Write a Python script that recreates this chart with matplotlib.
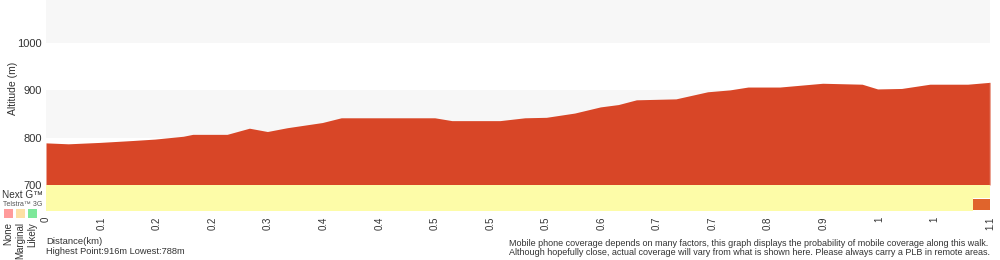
import numpy as np
import matplotlib
matplotlib.use("Agg")
import matplotlib.pyplot as plt

plt.rcParams['font.family'] = ['Liberation Sans', 'DejaVu Sans']

# elevation profile (km, m)
distance_km = [0.0, 0.026, 0.063, 0.101, 0.127, 0.160, 0.171, 0.211, 0.237, 0.258,
               0.281, 0.322, 0.344, 0.453, 0.473, 0.529, 0.558, 0.583, 0.616, 0.646,
               0.667, 0.688, 0.734, 0.771, 0.797, 0.818, 0.855, 0.905, 0.951, 0.969,
               0.997, 1.030, 1.074, 1.100]
altitude_m = [789, 787, 790, 794, 797, 803, 807, 807, 820, 813,
              821, 832, 842, 842, 836, 836, 842, 843, 852, 865,
              870, 880, 882, 897, 901, 907, 907, 915, 913, 903,
              904, 913, 913, 917]

# x tick labels as printed on the chart
tick_labels = ['0', '0.1', '0.2', '0.2', '0.3', '0.4', '0.4', '0.5', '0.5',
               '0.5', '0.6', '0.7', '0.7', '0.8', '0.9', '1', '1', '1.1']

# coverage segments (start km, end km, level)
nextg_start = [0.0]
nextg_end = [1.1]
nextg_level = ['Marginal']
g3_start = [0.0, 1.08]
g3_end = [1.08, 1.1]
g3_level = ['Marginal', 'None']

band_colors = {'None': '#e0642c', 'Marginal': '#fdfca8', 'Likely': '#7de89a'}
legend_levels = ['None', 'Marginal', 'Likely']
legend_colors = ['#ff9b9b', '#fde0a4', '#7de89a']

fig = plt.figure(figsize=(10, 2.6), dpi=100)
ax = fig.add_axes([0.046, 0.1885, 0.944, 0.8115])

x_max = 1.1
y_bot, y_top = 645, 1091

# alternating background bands
ax.axhspan(800, 900, color='#f7f7f7', lw=0, zorder=0)
ax.axhspan(1000, y_top, color='#f7f7f7', lw=0, zorder=0)

# altitude profile
ax.fill_between(distance_km, 700, altitude_m, color='#d84627', lw=0, zorder=2)
ax.vlines(distance_km[-1], 700, altitude_m[-1], color='#eba08e', lw=1, zorder=3)

# coverage rows
for s, e, lev in zip(nextg_start, nextg_end, nextg_level):
    ax.fill_between([s, e], 672.5, 700, color=band_colors[lev], lw=0, zorder=2)
for s, e, lev in zip(g3_start, g3_end, g3_level):
    if lev == 'None':
        ax.fill_between([s, e], 647, 671, color=band_colors[lev], lw=0, zorder=2)
    else:
        ax.fill_between([s, e], 645, 672.5, color=band_colors[lev], lw=0, zorder=2)

ax.set_xlim(0, x_max)
ax.set_ylim(y_bot, y_top)
ax.set_yticks([700, 800, 900, 1000])
ax.set_yticklabels(['700', '800', '900', '1000'], fontsize=8, color='#333333')
ax.set_xticks(np.linspace(0, x_max, len(tick_labels)))
ax.set_xticklabels(tick_labels, rotation=90, fontsize=7, color='#333333')
ax.tick_params(length=0, pad=4)
ax.tick_params(axis='y', pad=3)
for sp in ax.spines.values():
    sp.set_visible(False)

fig.text(0.013, 0.66, 'Altitude (m)', rotation=90, ha='center', va='center',
         fontsize=7.5, color='#333333')
fig.text(0.002, 1 - 195 / 260, 'Next G\u2122', ha='left', va='center', fontsize=7.2, color='#333333')
fig.text(0.003, 1 - 205 / 260, 'Telstra\u2122 3G', ha='left', va='center', fontsize=5, color='#555555')

# legend squares with rotated labels
for i, (lev, col) in enumerate(zip(legend_levels, legend_colors)):
    x0 = 0.004 + i * 0.012
    fig.patches.append(plt.Rectangle((x0, 1 - 218 / 260), 0.0085, 9 / 260,
                                     transform=fig.transFigure, color=col, lw=0))
    fig.text(x0 + 0.0045, 1 - 222 / 260, lev, rotation=90, ha='center', va='top',
             fontsize=7, color='#333333')

fig.text(0.046, 1 - 241 / 260, 'Distance(km)', ha='left', va='center',
         fontsize=6.8, color='#333333')
fig.text(0.046, 1 - 252 / 260, 'Highest Point:916m Lowest:788m', ha='left', va='center',
         fontsize=6.7, color='#333333')
fig.text(0.509, 1 - 248 / 260,
         'Mobile phone coverage depends on many factors, this graph displays the probability of mobile coverage along this walk.\n'
         'Although hopefully close, actual coverage will vary from what is shown here. Please always carry a PLB in remote areas.',
         ha='left', va='center', fontsize=6.45, color='#333333', linespacing=1.0)

fig.savefig('out.png', dpi=100)
